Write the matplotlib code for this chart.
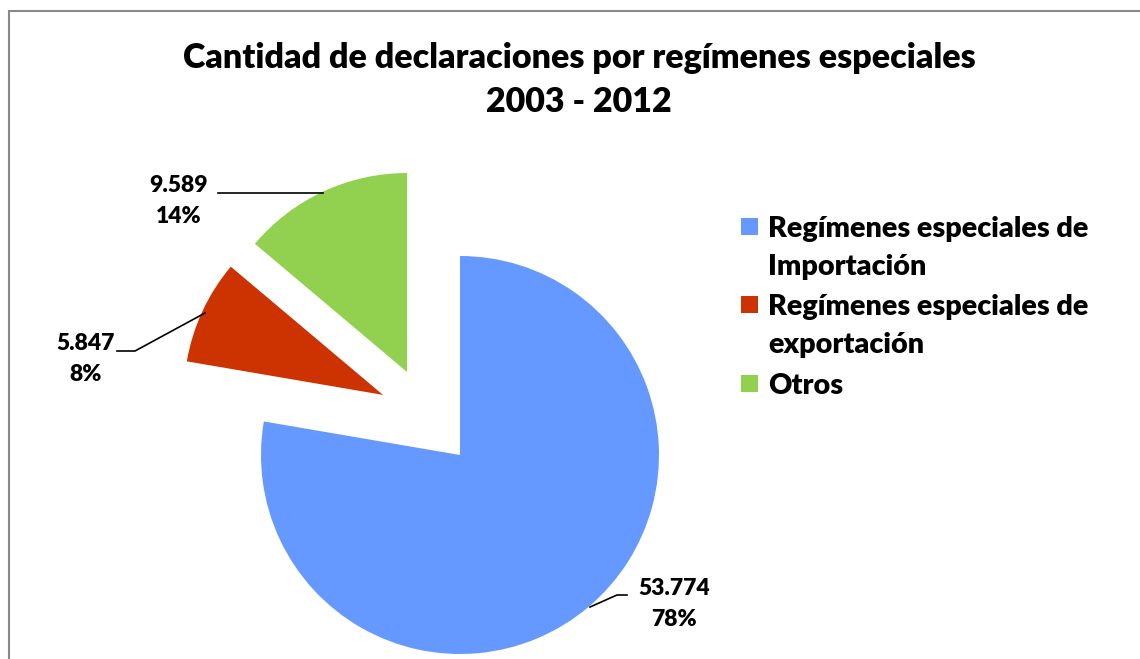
import matplotlib.pyplot as plt
from matplotlib.patches import Rectangle

categories = ["Regímenes especiales de\nImportación",
              "Regímenes especiales de\nexportación",
              "Otros"]
values = [53774, 5847, 9589]
colors = ["#6699FF", "#CC3300", "#92D050"]
title = "Cantidad de declaraciones por regímenes especiales\n2003 - 2012"

# pixel layout of the original (pie centre, radius)
W, H = 1140, 659
CX, CY, R = 460, 455, 199

# wedge shifts (in radius units) for the pulled-out slices
shifts = [(0.0, 0.0), (-0.387, 0.302), (-0.266, 0.417)]


def px(x, y):
    return ((x - CX) / R, (CY - y) / R)


plt.rcParams['font.family'] = ['Lato', 'DejaVu Sans']

fig = plt.figure(figsize=(W / 100, H / 100), dpi=100)
ax = fig.add_axes([0, 0, 1, 1])

wedges, _ = ax.pie(values, colors=colors, startangle=90, counterclock=False,
                   radius=1.0, wedgeprops=dict(linewidth=0))
for w, s in zip(wedges, shifts):
    w.set_center(s)

ax.set_xlim(-CX / R, (W - CX) / R)
ax.set_ylim(-(H - CY) / R, CY / R)
ax.set_aspect('auto')
ax.axis('off')

# value / percent labels with leader lines
total = sum(values)
label_pos = [(674, 604), (86, 359), (179, 201)]
leaders = [[(590, 607), (617, 595), (627, 595)],
           [(205, 313), (135, 351), (117, 351)],
           [(323, 193), (218, 193)]]
for v, (lx, ly), pts in zip(values, label_pos, leaders):
    txt = f"{v:,}".replace(",", ".") + f"\n{round(100 * v / total)}%"
    ax.text(*px(lx, ly), txt, ha='center', va='center', fontsize=16.5,
            fontweight='heavy', linespacing=1.6)
    xs, ys = zip(*[px(*p) for p in pts])
    ax.plot(xs, ys, color='black', lw=1.2)

fig.text(579 / W, 1 - 80 / H, title, ha='center', va='center', fontsize=24.5,
         fontweight='heavy', linespacing=1.45)

# legend: square key aligned with the first line of each entry
leg_y = [227, 305, 384]
for c, lab, y in zip(colors, categories, leg_y):
    fig.patches.append(Rectangle((741 / W, 1 - (y + 8) / H), 17 / W, 17 / H,
                                 transform=fig.transFigure, facecolor=c,
                                 edgecolor='none'))
    fig.text(768 / W, 1 - (y - 11) / H, lab, ha='left', va='top',
             fontsize=20.7, fontweight='heavy', linespacing=1.58)

# chart area frame (right and bottom edges fall outside the picture)
fig.patches.append(Rectangle((9 / W, -0.1), 1.2, 1.1 - 11 / H,
                             transform=fig.transFigure, fill=False,
                             edgecolor='#888888', linewidth=1.5))

fig.savefig("out.png", dpi=100)
